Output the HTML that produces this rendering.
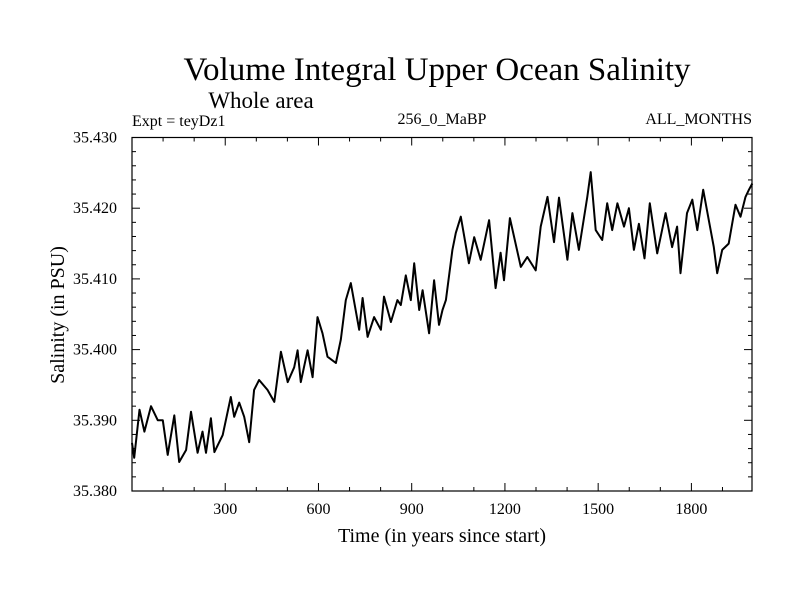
<!DOCTYPE html>
<html><head><meta charset="utf-8"><style>
body{margin:0;background:#fff}
text{font-family:"Liberation Serif",serif;fill:#000}
</style></head><body>
<svg id="chart" width="800" height="600" xmlns="http://www.w3.org/2000/svg">
<text x="437" y="80" font-size="33" text-anchor="middle">Volume Integral Upper Ocean Salinity</text>
<text x="261" y="108" font-size="23" text-anchor="middle">Whole area</text>
<text x="132" y="126" font-size="16">Expt = teyDz1</text>
<text x="442" y="124" font-size="16" text-anchor="middle">256_0_MaBP</text>
<text x="752" y="124" font-size="16" text-anchor="end">ALL_MONTHS</text>
<text x="442" y="542" font-size="20" text-anchor="middle">Time (in years since start)</text>
<text transform="translate(64,315) rotate(-90)" font-size="20" text-anchor="middle">Salinity (in PSU)</text>
<g id="axes"></g>
<path id="line" fill="none" stroke="#000" stroke-width="2" stroke-linejoin="round"/>
<rect x="132" y="137.5" width="620" height="353.5" fill="none" stroke="#000" stroke-width="1.2"/>
</svg>
<script>
const years=[0,7,24,40,61,83,99,115,136,152,174,190,211,227,238,254,265,292,318,329,345,361,377,393,409,436,458,479,501,522,533,543,565,581,597,613,629,656,672,688,704,731,742,758,779,801,811,833,854,865,881,897,908,924,935,956,972,988,999,1010,1031,1042,1058,1084,1101,1122,1149,1170,1186,1197,1216,1251,1272,1299,1315,1337,1358,1374,1401,1417,1438,1465,1476,1492,1513,1529,1545,1562,1583,1599,1615,1631,1649,1666,1690,1717,1738,1754,1765,1786,1803,1819,1838,1856,1872,1883,1899,1920,1942,1958,1974,1985,1996];
const salinity=[35.3868,35.3847,35.3915,35.3884,35.392,35.390,35.3900,35.3851,35.3907,35.3841,35.3858,35.3912,35.3854,35.3884,35.3854,35.3903,35.3855,35.3879,35.3933,35.3905,35.3925,35.3905,35.3869,35.3943,35.3957,35.3943,35.3926,35.3997,35.3954,35.3975,35.3999,35.3954,35.3999,35.3961,35.4046,35.4023,35.3990,35.3981,35.4014,35.4070,35.4094,35.4028,35.4073,35.4018,35.4046,35.4028,35.4075,35.4039,35.4070,35.4063,35.4105,35.4070,35.4122,35.4056,35.4084,35.4023,35.4098,35.4035,35.4056,35.4070,35.4141,35.4165,35.4188,35.4122,35.4159,35.4127,35.4183,35.4087,35.4137,35.4098,35.4186,35.4117,35.4131,35.4112,35.4174,35.4216,35.4152,35.4215,35.4127,35.4193,35.4141,35.4216,35.4251,35.4169,35.4155,35.4207,35.4169,35.4207,35.4174,35.4200,35.4141,35.4178,35.4129,35.4207,35.4136,35.4193,35.4145,35.4174,35.4108,35.4193,35.4212,35.4169,35.4226,35.4183,35.4145,35.4108,35.4141,35.4150,35.4205,35.4188,35.4216,35.4226,35.4235];
const xTicks=[300,600,900,1200,1500,1800];
const yTicks=[35.380,35.390,35.400,35.410,35.420,35.430];
const X0=132,X1=752,Y0=491,Y1=137.5,XMIN=0,XMAX=1995,YMIN=35.38,YMAX=35.43;
const sx=v=>X0+(v-XMIN)/(XMAX-XMIN)*(X1-X0);
const sy=v=>Y0-(v-YMIN)/(YMAX-YMIN)*(Y0-Y1);
const NS="http://www.w3.org/2000/svg";
const ax=document.getElementById('axes');
function ln(x1,y1,x2,y2,name){const l=document.createElementNS(NS,'line');
l.setAttribute('x1',x1);l.setAttribute('y1',y1);l.setAttribute('x2',x2);l.setAttribute('y2',y2);
l.setAttribute('stroke','#000');l.setAttribute('stroke-width','1');


ax.appendChild(l);}
function tx(x,y,s,anchor,name){const t=document.createElementNS(NS,'text');
t.setAttribute('x',x);t.setAttribute('y',y);t.setAttribute('font-size','16');t.setAttribute('text-anchor',anchor);t.textContent=s;


ax.appendChild(t);}
for(let v=100;v<XMAX;v+=100){const major=v%300===0;const L=major?8:4;const x=sx(v);
ln(x,Y0,x,Y0-L,'x-tick');ln(x,Y1,x,Y1+L,'x-tick-top');}
xTicks.forEach(v=>tx(sx(v),514,String(v),'middle','x-tick-label'));
for(let i=0;i<=25;i++){const v=YMIN+i*0.002;const major=i%5===0;const L=major?8:4;const y=sy(v);
ln(X0,y,X0+L,y,'y-tick');ln(X1,y,X1-L,y,'y-tick-right');}
yTicks.forEach(v=>tx(117,sy(v)+5,v.toFixed(3),'end','y-tick-label'));
let d='';years.forEach((y,i)=>{d+=(i?'L':'M')+sx(y).toFixed(1)+' '+sy(salinity[i]).toFixed(1)+' ';});
document.getElementById('line').setAttribute('d',d);
</script>
</body></html>
